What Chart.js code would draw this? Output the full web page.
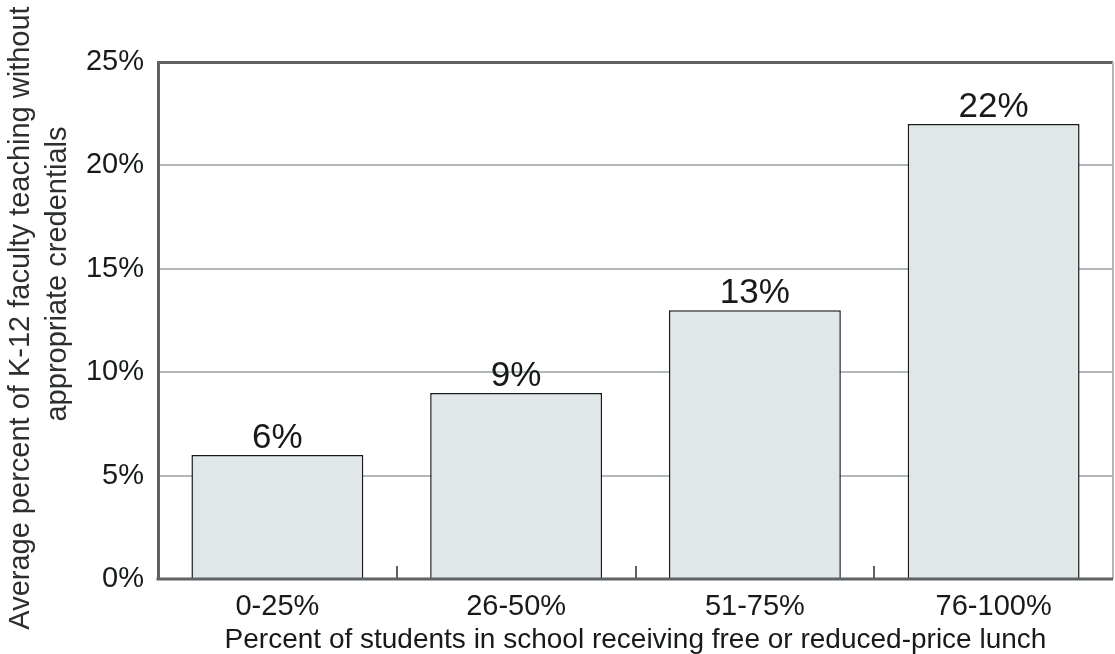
<!DOCTYPE html>
<html><head><meta charset="utf-8">
<script src="https://cdn.jsdelivr.net/npm/chart.js@4.4.1/dist/chart.umd.min.js"></script>
<style>html,body{margin:0;padding:0;background:#fff}#wrap{width:1115px;height:654px;position:relative}</style>
</head><body><div id="wrap"><canvas id="c"></canvas></div>
<script>
const categories = ["0-25%", "26-50%", "51-75%", "76-100%"];
const values = [6, 9, 13, 22];
const valueLabels = ["6%", "9%", "13%", "22%"];
const yTicks = [0, 5, 10, 15, 20, 25];
const xTitle = "Percent of students in school receiving free or reduced-price lunch";
const yTitle = ["Average percent of K-12 faculty teaching without", "appropriate credentials"];

const FONT = "'Liberation Sans', Arial, sans-serif";
const DARK = "#5e6265";
const GRID = "#b3b8ba";
const INK = "#161a1a";

const extras = {
  id: "extras",
  afterDatasetsDraw(chart) {
    const ctx = chart.ctx, a = chart.chartArea, xs = chart.scales.x;
    ctx.save();
    // right frame
    ctx.strokeStyle = GRID; ctx.lineWidth = 2;
    ctx.beginPath(); ctx.moveTo(a.right, a.top); ctx.lineTo(a.right, a.bottom); ctx.stroke();
    // bottom axis line
    ctx.strokeStyle = DARK; ctx.lineWidth = 3;
    ctx.beginPath(); ctx.moveTo(a.left - 1.5, a.bottom); ctx.lineTo(a.right, a.bottom); ctx.stroke();
    // inner ticks between categories
    ctx.lineWidth = 2;
    for (let i = 0; i < categories.length - 1; i++) {
      const x = Math.round((xs.getPixelForValue(i) + xs.getPixelForValue(i + 1)) / 2);
      ctx.beginPath(); ctx.moveTo(x, a.bottom); ctx.lineTo(x, a.bottom - 13); ctx.stroke();
    }
    // value labels
    const meta = chart.getDatasetMeta(0);
    ctx.fillStyle = INK;
    ctx.font = "35px " + FONT;
    ctx.textAlign = "center"; ctx.textBaseline = "alphabetic";
    meta.data.forEach((el, i) => ctx.fillText(valueLabels[i], el.x, el.y - 7));
    ctx.restore();
    // y title
    ctx.save();
    ctx.rotate(-Math.PI / 2);
    ctx.fillStyle = "#2b2f30";
    ctx.font = "29px " + FONT;
    ctx.textAlign = "center"; ctx.textBaseline = "middle";
    ctx.fillText(yTitle[0], -318, 21);
    ctx.fillText(yTitle[1], -274, 58);
    ctx.restore();
  }
};

new Chart(document.getElementById("c"), {
  type: "bar",
  data: {
    labels: categories,
    datasets: [{
      data: values,
      backgroundColor: "#e1e6e8",
      borderColor: INK,
      borderWidth: 1.5,
      categoryPercentage: 0.72,
      barPercentage: 1
    }]
  },
  options: {
    responsive: true, maintainAspectRatio: false, animation: false,
    layout: { padding: { top: 62, right: 2, left: 0, bottom: 0 } },
    plugins: { legend: { display: false }, tooltip: { enabled: false } },
    scales: {
      x: {
        grid: { display: false },
        border: { display: false },
        ticks: { color: INK, font: { family: FONT, size: 29 }, padding: 3 },
        title: { display: true, text: xTitle, color: INK, font: { family: FONT, size: 28 }, padding: { top: 0, bottom: -3 } },
        afterFit(s) { s.height = 75; }
      },
      y: {
        min: 0, max: 25,
        afterBuildTicks(s) { s.ticks = yTicks.map(v => ({ value: v })); },
        grid: {
          color: c => (c.tick && c.tick.value === 25) ? DARK : (c.tick && c.tick.value === 0 ? "rgba(0,0,0,0)" : GRID),
          lineWidth: c => (c.tick && c.tick.value === 25) ? 3 : 2,
          drawTicks: false
        },
        border: { display: true, color: DARK, width: 3 },
        ticks: { color: INK, font: { family: FONT, size: 29 }, padding: 14, callback: v => v + "%" },
        afterFit(s) { s.width = 158; }
      }
    }
  },
  plugins: [extras]
});
</script></body></html>
